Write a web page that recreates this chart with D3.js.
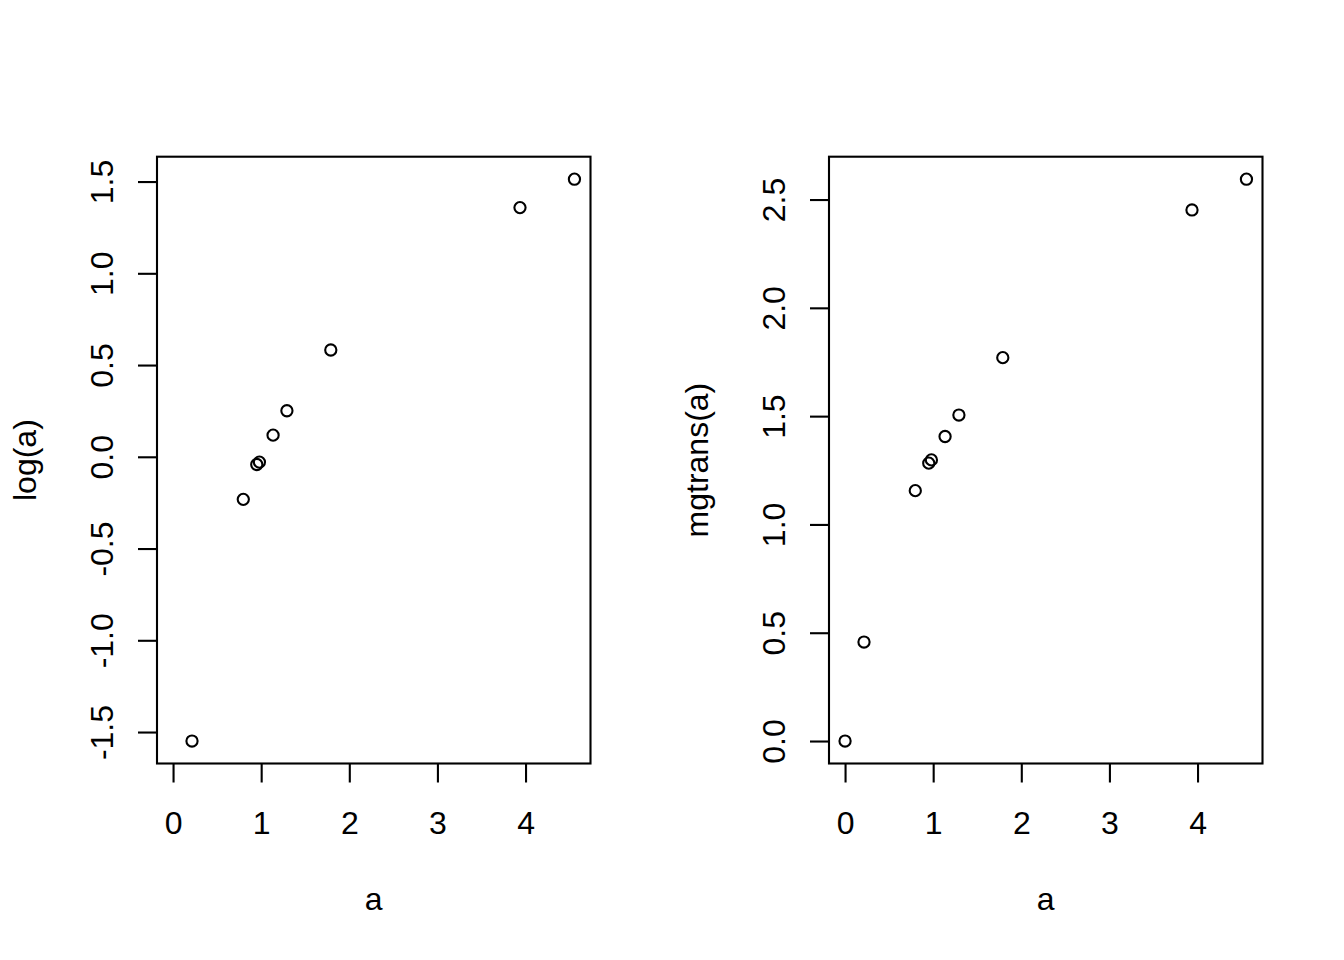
<!DOCTYPE html>
<html>
<head>
<meta charset="utf-8">
<script src="https://cdn.jsdelivr.net/npm/d3@7"></script>
<style>
  html, body { margin: 0; padding: 0; background: #ffffff; }
  svg { display: block; }
  text { font-family: "Liberation Sans", Arial, Helvetica, sans-serif; fill: #000; }
</style>
</head>
<body>
<svg id="chart" width="1344" height="960"></svg>
<script>
// ---- data ----
const aValues   = [0, 0.215, 0.797, 0.950, 0.980, 1.135, 1.292, 1.790, 3.937, 4.555];
const logA      = [null, -1.549, -0.232, -0.042, -0.029, 0.118, 0.251, 0.582, 1.358, 1.513];
const mgtransA  = [0, 0.457, 1.156, 1.283, 1.298, 1.406, 1.505, 1.770, 2.452, 2.594];
const xTicks    = [0, 1, 2, 3, 4];
const logTicks  = [-1.5, -1.0, -0.5, 0.0, 0.5, 1.0, 1.5];
const mgTicks   = [0.0, 0.5, 1.0, 1.5, 2.0, 2.5];
const xLabel    = "a";
const panels = [
  { yValues: logA,     yTicks: logTicks, yLabel: "log(a)",     left: 157 },
  { yValues: mgtransA, yTicks: mgTicks,  yLabel: "mgtrans(a)", left: 829 }
];

// ---- layout ----
const plotW = 433.5, plotTop = 156.7, plotBottom = 763.5;
const fontSize = 32, tickLen = 19, lw = 2.1, radius = 5.6;

const svg = d3.select("#chart");
const fmtY = v => v.toFixed(1);   // plain hyphen-minus like R

function rExtent(vals) {
  const e = d3.extent(vals.filter(v => v !== null && isFinite(v)));
  const w = e[1] - e[0];
  return [e[0] - 0.04 * w, e[1] + 0.04 * w];
}

panels.forEach(p => {
  const x = d3.scaleLinear().domain(rExtent(aValues)).range([p.left, p.left + plotW]);
  const y = d3.scaleLinear().domain(rExtent(p.yValues)).range([plotBottom, plotTop]);
  const g = svg.append("g");

  // x axis
  const xa = g.append("g").attr("transform", `translate(0,${plotBottom})`)
    .call(d3.axisBottom(x).tickValues(xTicks).tickFormat(v => String(v))
      .tickSize(tickLen).tickSizeOuter(0));
  xa.select(".domain").remove();
  xa.selectAll(".tick line").attr("stroke", "#000").attr("stroke-width", lw);
  xa.selectAll(".tick text")
    .attr("y", 70.5).attr("dy", 0)
    .style("font-size", fontSize + "px")
    .attr("text-anchor", "middle");

  // y axis
  const ya = g.append("g").attr("transform", `translate(${p.left},0)`)
    .call(d3.axisLeft(y).tickValues(p.yTicks).tickFormat(fmtY)
      .tickSize(tickLen).tickSizeOuter(0));
  ya.select(".domain").remove();
  ya.selectAll(".tick line").attr("stroke", "#000").attr("stroke-width", lw);
  ya.selectAll(".tick text")
    .attr("x", 0).attr("y", -44.3).attr("dy", 0)
    .attr("transform", "rotate(-90)")
    .attr("text-anchor", "middle")
    .style("font-size", fontSize + "px");

  // box
  g.append("rect")
    .attr("x", p.left).attr("y", plotTop)
    .attr("width", plotW).attr("height", plotBottom - plotTop)
    .attr("fill", "none").attr("stroke", "#000").attr("stroke-width", lw);

  // points
  const pts = aValues.map((a, i) => ({ a, v: p.yValues[i] }))
    .filter(d => d.v !== null && isFinite(d.v));
  g.selectAll("circle.pt").data(pts).join("circle")
    .attr("class", "pt")
    .attr("cx", d => x(d.a)).attr("cy", d => y(d.v))
    .attr("r", radius)
    .attr("fill", "none").attr("stroke", "#000").attr("stroke-width", lw);

  // axis titles
  g.append("text")
    .attr("x", p.left + plotW / 2).attr("y", 910)
    .attr("text-anchor", "middle")
    .style("font-size", fontSize + "px")
    .text(xLabel);
  const cy = (plotTop + plotBottom) / 2;
  g.append("text")
    .attr("transform", `translate(${p.left - 121.5},${cy}) rotate(-90)`)
    .attr("text-anchor", "middle")
    .style("font-size", fontSize + "px")
    .text(p.yLabel);
});
</script>
</body>
</html>
